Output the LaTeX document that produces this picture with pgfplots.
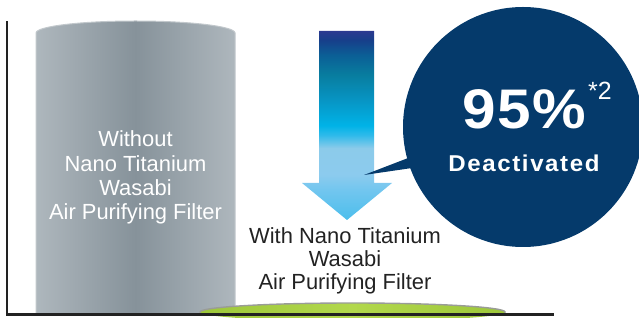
\documentclass[border=0pt]{standalone}
\usepackage{pgfplots}
\pgfplotsset{compat=1.18}
\usepackage{fontspec}
\setmainfont{Liberation Sans}
\newfontfamily\bigfont[FakeStretch=1.08, LetterSpace=3]{Liberation Sans}
\newfontfamily\deacfont[FakeStretch=1.05, LetterSpace=7]{Liberation Sans}
\definecolor{gedge}{HTML}{AEB7BD}
\definecolor{gmid}{HTML}{86929A}
\definecolor{grim}{HTML}{C2C8CC}
\definecolor{gredge}{HTML}{9DC73A}
\definecolor{grmid}{HTML}{B2D84C}
\definecolor{grrim}{HTML}{9A9C98}
\definecolor{navy}{HTML}{053A6B}
\definecolor{axcol}{HTML}{222222}
\definecolor{aA}{HTML}{4CBEEC}
\definecolor{aB}{HTML}{72C6EF}
\definecolor{aC}{HTML}{8CCBEE}
\definecolor{aD}{HTML}{8CCBEA}
\definecolor{aE}{HTML}{2EBAEA}
\definecolor{aF}{HTML}{00B3E7}
\definecolor{aG}{HTML}{0795C4}
\definecolor{aH}{HTML}{087D9F}
\definecolor{aI}{HTML}{0B5F96}
\definecolor{aJ}{HTML}{173F8A}
\definecolor{aK}{HTML}{2B3990}
\pgfdeclareverticalshading{arrowshade}{100bp}{color(0bp)=(aA); color(25bp)=(aA); color(33bp)=(aB); color(37bp)=(aC); color(44bp)=(aD); color(47.5bp)=(aE); color(50bp)=(aF); color(56.7bp)=(aG); color(63.4bp)=(aH); color(68.6bp)=(aI); color(72.6bp)=(aJ); color(75bp)=(aK); color(100bp)=(aK)}
\begin{document}
\begin{tikzpicture}
\begin{axis}[
  scale only axis,
  width=546bp, height=292.5bp,
  xmin=7, xmax=553, ymin=0, ymax=292.5,
  axis lines=left,
  axis line style={-, line width=2.4bp, axcol, line cap=rect},
  xtick=\empty, ytick=\empty,
  clip=false,
  axis on top,
]
% Without filter (gray cylinder)
\addplot[ybar, bar width=199, bar shift=0pt, draw=none,
  left color=gedge, right color=gedge, middle color=gmid] coordinates {(135.5,281.5)};
\shade[left color=gedge, right color=gedge, middle color=gmid]
  (axis cs:135.5,281.5) ellipse [x radius=99.5bp, y radius=12bp];
\draw[grim, line width=1bp] (axis cs:36,0) -- (axis cs:36,281.5)
  arc[start angle=180, end angle=0, x radius=99.5bp, y radius=12bp] -- (axis cs:235,0);
% With filter (green disc)
\addplot[ybar, bar width=305, bar shift=0pt, draw=none,
  left color=gredge, right color=gredge, middle color=grmid] coordinates {(352.5,2.5)};
\shade[left color=gredge, right color=gredge, middle color=grmid]
  (axis cs:352.5,2.5) ellipse [x radius=152.5bp, y radius=9bp];
\draw[grrim, line width=1.4bp] (axis cs:200,0) -- (axis cs:200,2.5)
  arc[start angle=180, end angle=0, x radius=152.5bp, y radius=9bp] -- (axis cs:505,0);
% Arrow
\shade[shading=arrowshade] (axis cs:319,283.5) -- (axis cs:374,283.5) -- (axis cs:374,131.5)
  -- (axis cs:392,131.5) -- (axis cs:347,94.5) -- (axis cs:302,131.5) -- (axis cs:319,131.5) -- cycle;
% Bubble
\fill[navy] (axis cs:523,187.5) circle[radius=120bp];
\fill[navy] (axis cs:416,159.5) -- (axis cs:364,139.5) -- (axis cs:419,147.5) -- cycle;
\node[anchor=base, white, font=\bigfont\bfseries\fontsize{56}{56}\selectfont, inner sep=0pt] at (axis cs:524,185.5) {95\%};
\node[anchor=base west, white, font=\fontsize{25}{25}\selectfont, inner sep=0pt] at (axis cs:588,214.5) {*2};
\node[anchor=base, white, font=\deacfont\bfseries\fontsize{23}{23}\selectfont, inner sep=0pt] at (axis cs:524,142.5) {Deactivated};
% Labels
\begin{scope}[every node/.style={anchor=base, inner sep=0pt, font=\fontsize{22}{22}\selectfont}]
\node[white] at (axis cs:135.5,167.5) {Without};
\node[white] at (axis cs:135.5,143.2) {Nano Titanium};
\node[white] at (axis cs:135.5,118.9) {Wasabi};
\node[white] at (axis cs:135.5,94.5) {Air Purifying Filter};
\node[axcol] at (axis cs:345,70.5) {With Nano Titanium};
\node[axcol] at (axis cs:345,48) {Wasabi};
\node[axcol] at (axis cs:345,25.5) {Air Purifying Filter};
\end{scope}
\coordinate (BL) at (axis cs:0,-3.5);
\coordinate (TR) at (axis cs:639,314.5);
\end{axis}
\pgfresetboundingbox
\useasboundingbox (BL) rectangle (TR);
\end{tikzpicture}
\end{document}
